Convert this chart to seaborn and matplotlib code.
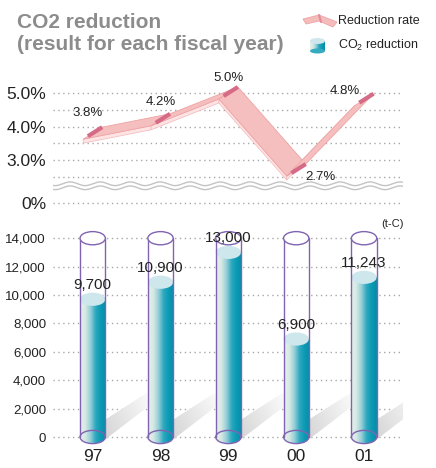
import numpy as np
import pandas as pd
import matplotlib
matplotlib.use('Agg')
import matplotlib.pyplot as plt
import seaborn as sns
from matplotlib.patches import Ellipse, Polygon
from matplotlib.colors import LinearSegmentedColormap

# data
years = ['97', '98', '99', '00', '01']
co2_reduction = [9700, 10900, 13000, 6900, 11243]
co2_labels = ['9,700', '10,900', '13,000', '6,900', '11,243']
reduction_rate = [3.8, 4.2, 5.0, 2.7, 4.8]
rate_labels = ['3.8%', '4.2%', '5.0%', '2.7%', '4.8%']
co2_ticks = [0, 2000, 4000, 6000, 8000, 10000, 12000, 14000]
co2_tick_labels = ['0', '2,000', '4,000', '6,000', '8,000', '10,000', '12,000', '14,000']
rate_grid = [2.5, 3.0, 3.5, 4.0, 4.5, 5.0]
rate_ticks = [3.0, 4.0, 5.0]
rate_tick_labels = ['3.0%', '4.0%', '5.0%']
cylinder_max = 14000

# styling / layout
rate_label_offsets = [(-5, 20), (0, 18), (0, 15), (24, -7), (-19, 9)]
ZERO_POS = 1.72          # where "0%" sits on the broken rate axis
XLIM = (-0.585, 4.574)
BAR_W = 0.373
ELL_H = 930
PURPLE = '#8064b2'
TXT = '#222222'
GRID = dict(linestyles=(0, (1, 2.5)), colors='#a8a8a8', linewidths=1)

sns.set_style('white')
plt.rcParams['font.family'] = ['Liberation Sans', 'DejaVu Sans']
plt.rcParams['mathtext.fontset'] = 'custom'
plt.rcParams['mathtext.rm'] = 'Liberation Sans'

W, H = 436, 468
fig = plt.figure(figsize=(W / 100, H / 100), dpi=100)


def px_axes(left, top, right, bottom):
    return fig.add_axes([left / W, 1 - bottom / H, (right - left) / W, (bottom - top) / H])


cyl_cmap = LinearSegmentedColormap.from_list(
    'cyl', ['#e6f0e8', '#d6eae3', '#98cfd8', '#2ea8be', '#0a9ab4', '#078ca6'])
shadow_cmap = LinearSegmentedColormap.from_list('shd', ['#d2d2d2', '#ffffff'])
grad = np.linspace(0, 1, 256).reshape(1, -1)

# ---------------- bottom: CO2 reduction cylinders ----------------
ax = px_axes(53, 225, 403, 452)
df = pd.DataFrame({'year': years, 'co2': co2_reduction})
sns.barplot(data=df, x='year', y='co2', ax=ax, width=BAR_W, color='#1aa3bb',
            saturation=1, edgecolor='none', zorder=3)
ax.set_xlim(*XLIM)
ax.set_ylim(-1056, 14930)


def shift(a, x, y, dx, dy):
    d = a.transData.transform((x, y))
    return a.transData.inverted().transform((d[0] + dx, d[1] + dy))


for i, patch in enumerate(list(ax.patches)):
    x0, w, h = patch.get_x(), patch.get_width(), patch.get_height()
    cx = x0 + w / 2
    patch.set_facecolor('none')

    # shadow
    pts = [shift(ax, cx, 0, dx, dy) for dx, dy in [(8, -6), (12, 17), (54, 44), (64, 37)]]
    shp = Polygon(pts, facecolor='none', edgecolor='none', zorder=1)
    ax.add_patch(shp)
    xs_, ys_ = zip(*pts)
    X, Y = np.meshgrid(np.linspace(0, 1, 64), np.linspace(0, 1, 64))
    sim = ax.imshow(0.7 * X + 0.3 * Y, extent=[min(xs_), max(xs_), min(ys_), max(ys_)],
                    origin='lower', aspect='auto', cmap=shadow_cmap, zorder=1)
    sim.set_clip_path(shp)

    # gradient body
    im = ax.imshow(grad, extent=[x0, x0 + w, 0, h], aspect='auto', cmap=cyl_cmap, zorder=3)
    im.set_clip_path(patch)
    bot = Ellipse((cx, 0), w, ELL_H, facecolor='none', edgecolor='none', zorder=3)
    ax.add_patch(bot)
    im2 = ax.imshow(grad, extent=[x0, x0 + w, -ELL_H / 2, ELL_H / 2], aspect='auto',
                    cmap=cyl_cmap, zorder=3)
    im2.set_clip_path(bot)
    ax.add_patch(Ellipse((cx, h), w, ELL_H, facecolor='#cde7ec', edgecolor='none', zorder=4))

    # glass outline
    ax.plot([x0, x0], [0, cylinder_max], color=PURPLE, lw=1, zorder=5)
    ax.plot([x0 + w, x0 + w], [0, cylinder_max], color=PURPLE, lw=1, zorder=5)
    ax.add_patch(Ellipse((cx, cylinder_max), w, ELL_H, facecolor='white', edgecolor=PURPLE,
                         lw=1, zorder=5))
    ax.add_patch(Ellipse((cx, 0), w, ELL_H, facecolor='none', edgecolor=PURPLE, lw=1, zorder=5))

    ax.annotate(co2_labels[i], (cx, h), xytext=(0, 14), textcoords='offset pixels',
                ha='center', va='center', fontsize=11, color=TXT, zorder=6)

ax.set_xlim(*XLIM)
ax.set_ylim(-1056, 14930)
ax.hlines(co2_ticks, XLIM[0], XLIM[1], zorder=0, **GRID)
ax.set_yticks(co2_ticks)
ax.set_yticklabels(co2_tick_labels, fontsize=9.5, color=TXT)
ax.set_xticks(range(len(years)))
ax.set_xticklabels(years, fontsize=12.5, color=TXT)
ax.tick_params(axis='y', length=0, pad=5)
ax.tick_params(axis='x', length=0, pad=-2.5)
ax.set_xlabel('')
ax.set_ylabel('')
sns.despine(ax=ax, left=True, bottom=True)
ax.patch.set_alpha(0)

# ---------------- top: reduction rate ribbon ----------------
axr = px_axes(53, 70, 403, 215)
axr.set_xlim(*XLIM)
axr.set_ylim(1.358, 5.687)
axr.hlines(rate_grid + [ZERO_POS], XLIM[0], XLIM[1], zorder=0, **GRID)
axr.set_yticks([ZERO_POS] + rate_ticks)
axr.set_yticklabels(['0%'] + rate_tick_labels, fontsize=12.5, color=TXT)
axr.set_xticks([])
axr.tick_params(length=0, pad=5)
sns.despine(ax=axr, left=True, bottom=True)
axr.patch.set_alpha(0)

# axis break
wx = np.linspace(XLIM[0], XLIM[1], 500)
for base in (2.29, 2.17):
    axr.plot(wx, base + 0.055 * np.sin(2 * np.pi * wx / 0.442), color='#c4c4c4', lw=1, zorder=1)

to_disp = axr.transData.transform
inv = axr.transData.inverted().transform
P = np.array([to_disp((i, r)) for i, r in enumerate(reduction_rate)])
depth = np.array([19.0, 12.0])
thick = np.array([0.0, 4.0])
for i in range(len(P) - 1):
    A, B = P[i] - depth / 2, P[i + 1] - depth / 2
    C, D = P[i + 1] + depth / 2, P[i] + depth / 2
    axr.add_patch(Polygon(inv(np.array([A, B, B - thick, A - thick])), facecolor='#fde3e3',
                          edgecolor='#f3b8b8', lw=0.5, zorder=2))
    axr.add_patch(Polygon(inv(np.array([A, B, C, D])), facecolor='#f6bfbf',
                          edgecolor='#eea3a3', lw=0.6, zorder=3))
for i, p in enumerate(P):
    seg = inv(np.array([p - depth / 4, p + depth / 2]))
    axr.plot(seg[:, 0], seg[:, 1], color='#d56b86', lw=3, solid_capstyle='butt', zorder=4)
    axr.annotate(rate_labels[i], (i, reduction_rate[i]), xytext=rate_label_offsets[i],
                 textcoords='offset pixels', ha='center', va='center', fontsize=9.5,
                 color=TXT, zorder=6)

# ---------------- overlay: title, legend, unit ----------------
ov = fig.add_axes([0, 0, 1, 1])
ov.set_xlim(0, W)
ov.set_ylim(H, 0)
ov.axis('off')
ov.text(17, 28, 'CO2 reduction', fontsize=15, weight='bold', color='#8c8c8c', va='baseline')
ov.text(17, 50, '(result for each fiscal year)', fontsize=15, weight='bold', color='#8c8c8c',
        va='baseline')

ov.add_patch(Polygon([(303, 19), (319, 15), (337, 22), (333, 27), (319, 21), (306, 24)],
                     facecolor='#f5bcbc', edgecolor='#eea3a3', lw=0.6))
ov.plot([319, 321], [15, 22], color='#e28d9d', lw=1.5)
ov.text(338, 21, 'Reduction rate', fontsize=9, va='center', color=TXT)

leg_body = Polygon([(310, 41), (325, 41), (325, 51), (310, 51)], facecolor='none', edgecolor='none')
ov.add_patch(leg_body)
lim = ov.imshow(grad, extent=[310, 325, 51, 41], aspect='auto', cmap=cyl_cmap, zorder=2)
lim.set_clip_path(leg_body)
ov.add_patch(Ellipse((317.5, 51), 15, 5, facecolor='#36abc0', edgecolor='none', zorder=2))
ov.add_patch(Ellipse((317.5, 41), 15, 6, facecolor='#cde7ec', edgecolor='none', zorder=3))
ov.set_xlim(0, W)
ov.set_ylim(H, 0)
ov.text(338, 45, r'CO$_2$ reduction', fontsize=9, va='center', color=TXT)
ov.text(392, 224, '(t-C)', fontsize=8, ha='center', va='center', color=TXT)

fig.savefig('out.png', dpi=100)
